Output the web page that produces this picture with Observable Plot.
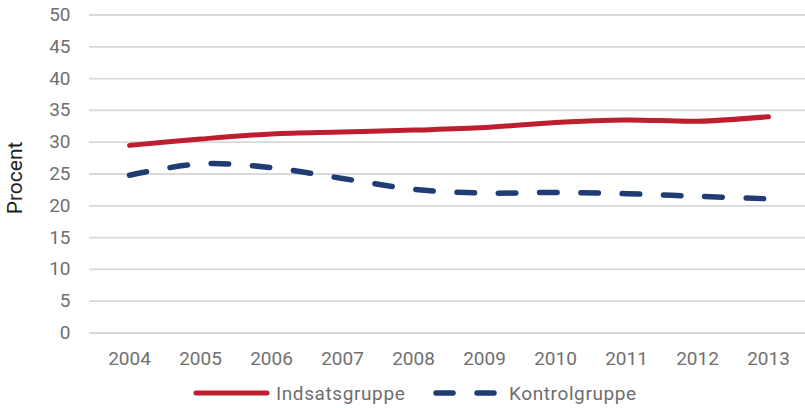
<!DOCTYPE html>
<html>
<head>
<meta charset="utf-8">
<script src="https://cdn.jsdelivr.net/npm/d3@7"></script>
<script src="https://cdn.jsdelivr.net/npm/@observablehq/plot@0.6"></script>
<style>
  html, body { margin: 0; padding: 0; background: #fff; }
  body { width: 805px; height: 408px; overflow: hidden; font-family: Roboto, sans-serif; }
  #legend { position: relative; height: 30px; }
  .item { position: absolute; top: 0; height: 30px; display: flex; align-items: center; font-size: 19px; letter-spacing: 0.6px; color: #6e6e6e; }
  .item svg { margin-right: 6px; }
</style>
</head>
<body>
<div id="chart"></div>
<div id="legend"></div>
<script>
const years = ["2004","2005","2006","2007","2008","2009","2010","2011","2012","2013"];
const indsats = [29.5, 30.5, 31.3, 31.6, 31.9, 32.3, 33.1, 33.5, 33.3, 34.0];
const kontrol = [24.8, 26.6, 26.0, 24.3, 22.6, 22.0, 22.1, 21.9, 21.5, 21.1];
const yTicks = [0, 5, 10, 15, 20, 25, 30, 35, 40, 45, 50];
const seriesNames = ["Indsatsgruppe", "Kontrolgruppe"];
const colors = ["#BE1E2D", "#1F3C74"];

const data = [];
years.forEach((yr, i) => {
  data.push({year: yr, value: indsats[i], series: seriesNames[0]});
  data.push({year: yr, value: kontrol[i], series: seriesNames[1]});
});

const chart = Plot.plot({
  width: 805,
  height: 378,
  marginLeft: 89,
  marginRight: 0,
  marginTop: 14.5,
  marginBottom: 45.5,
  style: {fontFamily: "Roboto, sans-serif", fontSize: "19px", color: "#707070", background: "#fff"},
  x: {type: "point", domain: years, range: [125.3, 772.5], padding: 0},
  y: {domain: [0, 50]},
  marks: [
    Plot.ruleY(yTicks, {stroke: "#d9d9d9", strokeWidth: 1.8}),
    Plot.axisY({ticks: yTicks, tickSize: 0, tickPadding: 19, label: "Procent", labelAnchor: "center", labelArrow: "none", labelOffset: 82, fill: "#707070"}),
    Plot.axisX({tickSize: 0, tickPadding: 18, label: null, fill: "#707070"}),
    Plot.line(data.filter(d => d.series === seriesNames[0]), {x: "year", y: "value", stroke: colors[0], strokeWidth: 5, curve: "catmull-rom", strokeLinecap: "round"}),
    Plot.line(data.filter(d => d.series === seriesNames[1]), {x: "year", y: "value", stroke: colors[1], strokeWidth: 5.5, curve: "catmull-rom", strokeLinecap: "round", strokeDasharray: "17.5,23.8"})
  ]
});
document.getElementById("chart").appendChild(chart);
chart.querySelectorAll("g[aria-label='y-axis label']").forEach(el => {
  el.setAttribute("fill", "#222");
  el.setAttribute("font-size", "21px");
  el.style.fontSize = "21px";
  el.querySelectorAll("text").forEach(t => t.setAttribute("dx", "-4"));
});

const legend = document.getElementById("legend");
legend.innerHTML = `
  <div class="item" style="left:193px"><svg width="77" height="10"><line x1="3" y1="5" x2="74" y2="5" stroke="${colors[0]}" stroke-width="5" stroke-linecap="round"/></svg>${seriesNames[0]}</div>
  <div class="item" style="left:433px"><svg width="70" height="10"><line x1="3" y1="5" x2="67" y2="5" stroke="${colors[1]}" stroke-width="5.5" stroke-linecap="round" stroke-dasharray="17,24"/></svg>${seriesNames[1]}</div>
`;
</script>
</body>
</html>
